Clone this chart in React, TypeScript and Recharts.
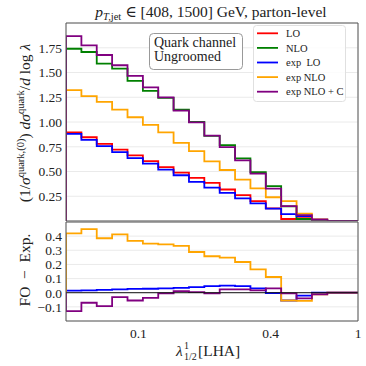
import React from 'react';
import { LineChart, Line, XAxis, YAxis, CartesianGrid, ReferenceLine } from 'recharts';

// Bin edges in lambda (log-spaced)
const binEdges = [0.0468, 0.055, 0.0646, 0.0759, 0.0892, 0.1048, 0.1231, 0.1446, 0.1699, 0.1996, 0.2345, 0.2755, 0.3237, 0.3803, 0.4468, 0.525, 0.6168, 0.7247, 0.8514, 1.0];

// Top panel series (per bin)
const LO = [0.894, 0.846, 0.78, 0.72, 0.663, 0.605, 0.545, 0.489, 0.435, 0.385, 0.318, 0.261, 0.201, 0.127, 0.02, 0.03, 0.005, 0, 0];
const NLO = [1.74, 1.707, 1.589, 1.539, 1.416, 1.315, 1.243, 1.125, 1.0, 0.86, 0.766, 0.633, 0.494, 0.352, 0.148, 0.02, 0.005, 0, 0];
const expLO = [0.88, 0.82, 0.756, 0.696, 0.636, 0.579, 0.519, 0.462, 0.395, 0.338, 0.284, 0.228, 0.178, 0.124, 0.07, 0.05, 0.005, 0, 0];
const expNLO = [1.322, 1.262, 1.203, 1.125, 1.048, 0.97, 0.895, 0.79, 0.705, 0.602, 0.515, 0.418, 0.329, 0.24, 0.2, 0.075, 0.015, 0, 0];
const expNLOC = [1.867, 1.774, 1.677, 1.573, 1.466, 1.349, 1.248, 1.114, 0.997, 0.863, 0.746, 0.612, 0.479, 0.328, 0.151, 0.06, 0.017, 0, 0];

// Bottom panel: FO - Exp.
const diffLO = [0.015, 0.017, 0.02, 0.023, 0.027, 0.028, 0.03, 0.034, 0.04, 0.047, 0.05, 0.047, 0.03, -0.003, -0.055, -0.02, 0.0, 0, 0];
const diffNLO = [0.42, 0.449, 0.385, 0.413, 0.366, 0.347, 0.342, 0.331, 0.288, 0.258, 0.248, 0.217, 0.165, 0.111, -0.055, -0.058, -0.012, 0, 0];
const diffNLOC = [-0.13, -0.071, -0.095, -0.031, -0.055, -0.036, -0.005, 0.011, 0.004, -0.005, 0.023, 0.023, 0.016, 0.03, -0.005, -0.04, -0.012, 0, 0];

const xMajorTicks = [0.1, 0.4, 1];
const xMinorTicks = [0.05, 0.06, 0.07, 0.08, 0.09, 0.2, 0.3, 0.5, 0.6, 0.7, 0.8, 0.9];
const topYTicks = [0.25, 0.5, 0.75, 1.0, 1.25, 1.5, 1.75];
const bottomYTicks = [-0.1, 0.0, 0.1, 0.2, 0.3, 0.4];
const seriesNames = ['LO', 'NLO', 'exp  LO', 'exp NLO', 'exp NLO + C'];
const seriesColors = ['#ff0000', '#008000', '#0000ff', '#ffa500', '#800080'];

const xDomain: [number, number] = [binEdges[0], binEdges[binEdges.length - 1]];
const FONT = 'Liberation Serif, DejaVu Serif, serif';
const FRAME = '#555';
const GRID = '#e8e8e8';

function toSteps(vals: number[]) {
  const pts: { x: number; y: number }[] = [{ x: binEdges[0], y: 0 }];
  vals.forEach((v, i) => pts.push({ x: binEdges[i], y: v }));
  pts.push({ x: binEdges[binEdges.length - 1], y: vals[vals.length - 1] });
  pts.push({ x: binEdges[binEdges.length - 1], y: 0 });
  return pts;
}

const fmtBottom = (v: number) => (v < 0 ? '\u2212' + Math.abs(v).toFixed(1) : v.toFixed(1));

const tickStyle = { fontSize: 13.5, fill: '#222', fontFamily: FONT };

function xAxes(showLabels: boolean) {
  return [
    <XAxis key="maj" xAxisId="maj" dataKey="x" type="number" scale="log" domain={xDomain} allowDataOverflow ticks={xMajorTicks} interval={0} mirror tick={false} tickSize={5} axisLine={{ stroke: FRAME }} tickLine={{ stroke: FRAME }} />,
    <XAxis key="min" xAxisId="min" dataKey="x" type="number" scale="log" domain={xDomain} allowDataOverflow ticks={xMinorTicks} interval={0} mirror tick={false} tickSize={2.5} axisLine={false} tickLine={{ stroke: FRAME }} />,
    <XAxis key="top" xAxisId="top" dataKey="x" orientation="top" type="number" scale="log" domain={xDomain} allowDataOverflow ticks={xMajorTicks} mirror tick={false} tickLine={false} axisLine={{ stroke: FRAME }} />,
    ...(showLabels
      ? [<XAxis key="lab" xAxisId="lab" dataKey="x" type="number" scale="log" domain={xDomain} allowDataOverflow ticks={xMajorTicks} interval={0} height={20} tickSize={0} tickMargin={7} tickLine={false} axisLine={false} tick={tickStyle} tickFormatter={(v: number) => String(v)} />]
      : []),
  ];
}

export default function App() {
  const topSeries = [LO, NLO, expLO, expNLO, expNLOC];
  const bottomSeries = [
    { vals: diffLO, color: seriesColors[2] },
    { vals: diffNLO, color: seriesColors[3] },
    { vals: diffNLOC, color: seriesColors[4] },
  ];
  return (
    <div style={{ position: 'absolute', left: 0, top: 0, width: 366, height: 366, background: '#fff' }}>
      <div style={{ position: 'absolute', left: 0, top: 0 }}>
        <LineChart width={366} height={222} margin={{ top: 23, right: 8, left: 26, bottom: 1 }}>
          <CartesianGrid xAxisId="maj" yAxisId="lab" stroke={GRID} strokeWidth={0.9} />
          {xAxes(false)}
          <YAxis yAxisId="lab" type="number" domain={[0, 2]} allowDataOverflow ticks={topYTicks} interval={0} width={40} tickSize={0} tickMargin={4} tickLine={false} axisLine={false} tick={tickStyle} tickFormatter={(v: number) => v.toFixed(2)} />
          <YAxis yAxisId="in" type="number" domain={[0, 2]} ticks={topYTicks} interval={0} mirror tick={false} tickSize={5} axisLine={{ stroke: FRAME }} tickLine={{ stroke: FRAME }} />
          <YAxis yAxisId="right" orientation="right" type="number" domain={[0, 2]} ticks={topYTicks} mirror tick={false} tickLine={false} axisLine={{ stroke: FRAME }} />
          {topSeries.map((vals, i) => (
            <Line key={i} xAxisId="maj" yAxisId="lab" data={toSteps(vals)} dataKey="y" type="stepAfter" stroke={seriesColors[i]} strokeWidth={1.8} dot={false} isAnimationActive={false} />
          ))}
        </LineChart>
      </div>
      <div style={{ position: 'absolute', left: 0, top: 200 }}>
        <LineChart width={366} height={166} margin={{ top: 22, right: 8, left: 26, bottom: 25 }}>
          <CartesianGrid xAxisId="maj" yAxisId="lab" stroke={GRID} strokeWidth={0.9} />
          {xAxes(true)}
          <YAxis yAxisId="lab" type="number" domain={[-0.2, 0.5]} allowDataOverflow ticks={bottomYTicks} interval={0} width={40} tickSize={0} tickMargin={4} tickLine={false} axisLine={false} tick={tickStyle} tickFormatter={fmtBottom} />
          <YAxis yAxisId="in" type="number" domain={[-0.2, 0.5]} ticks={bottomYTicks} interval={0} mirror tick={false} tickSize={5} axisLine={{ stroke: FRAME }} tickLine={{ stroke: FRAME }} />
          <YAxis yAxisId="right" orientation="right" type="number" domain={[-0.2, 0.5]} ticks={bottomYTicks} mirror tick={false} tickLine={false} axisLine={{ stroke: FRAME }} />
          {bottomSeries.map((s, i) => (
            <Line key={i} xAxisId="maj" yAxisId="lab" data={toSteps(s.vals)} dataKey="y" type="stepAfter" stroke={s.color} strokeWidth={1.8} dot={false} isAnimationActive={false} />
          ))}
          <ReferenceLine xAxisId="maj" yAxisId="lab" y={0} stroke="#111" strokeWidth={1} />
        </LineChart>
      </div>
      <svg width={366} height={366} style={{ position: 'absolute', left: 0, top: 0, pointerEvents: 'none' }} fontFamily={FONT}>
        {/* Title */}
        <text x={211} y={17} textAnchor="middle" fontSize={15.5} fill="#222">
          <tspan fontStyle="italic">p</tspan>
          <tspan fontSize={10.5} fontStyle="italic" dy={3}>T,</tspan>
          <tspan fontSize={10.5}>jet</tspan>
          <tspan dy={-3}> ∈ [408, 1500] GeV, parton-level</tspan>
        </text>
        {/* Y label top */}
        <text transform="translate(30,123) rotate(-90)" textAnchor="middle" fontSize={15.5} fill="#222">
          <tspan>(1/</tspan>
          <tspan fontStyle="italic">σ</tspan>
          <tspan fontSize={10.5} dy={-6}>quark,(0)</tspan>
          <tspan dy={6}>) </tspan>
          <tspan fontStyle="italic">dσ</tspan>
          <tspan fontSize={10.5} dy={-6}>quark</tspan>
          <tspan dy={6}>/</tspan>
          <tspan fontStyle="italic">d</tspan>
          <tspan> log </tspan>
          <tspan fontStyle="italic">λ</tspan>
        </text>
        {/* Y label bottom */}
        <text transform="translate(30,270) rotate(-90)" textAnchor="middle" fontSize={15.5} fill="#222" style={{ whiteSpace: 'pre' }}>FO  −  Exp.</text>
        {/* X label */}
        <text x={176} y={356} fontSize={15.5} fill="#222">
          <tspan fontStyle="italic">λ</tspan>
          <tspan x={184} dy={-7} fontSize={10}>1</tspan>
          <tspan x={184} dy={11} fontSize={10}>1/2</tspan>
          <tspan x={198} dy={-4}>[LHA]</tspan>
        </text>
        {/* Annotation box */}
        <rect x={149.5} y={33.5} width={93} height={36} rx={4} fill="#fff" stroke="#999" strokeWidth={1} />
        <text x={154} y={46.5} fontSize={14} fill="#222">Quark channel</text>
        <text x={154} y={61} fontSize={14} fill="#222">Ungroomed</text>
        {/* Legend */}
        <rect x={253.5} y={25.5} width={92} height={76} rx={3} fill="#fff" fillOpacity={0.85} stroke="#e0e0e0" strokeWidth={1} />
        {seriesNames.map((name, i) => (
          <g key={name}>
            <line x1={257} x2={278} y1={33.3 + i * 14.6} y2={33.3 + i * 14.6} stroke={seriesColors[i]} strokeWidth={1.8} />
            <text x={286} y={33.3 + i * 14.6 + 3.6} fontSize={10.5} fill="#222" style={{ whiteSpace: 'pre' }}>{name}</text>
          </g>
        ))}
      </svg>
    </div>
  );
}
